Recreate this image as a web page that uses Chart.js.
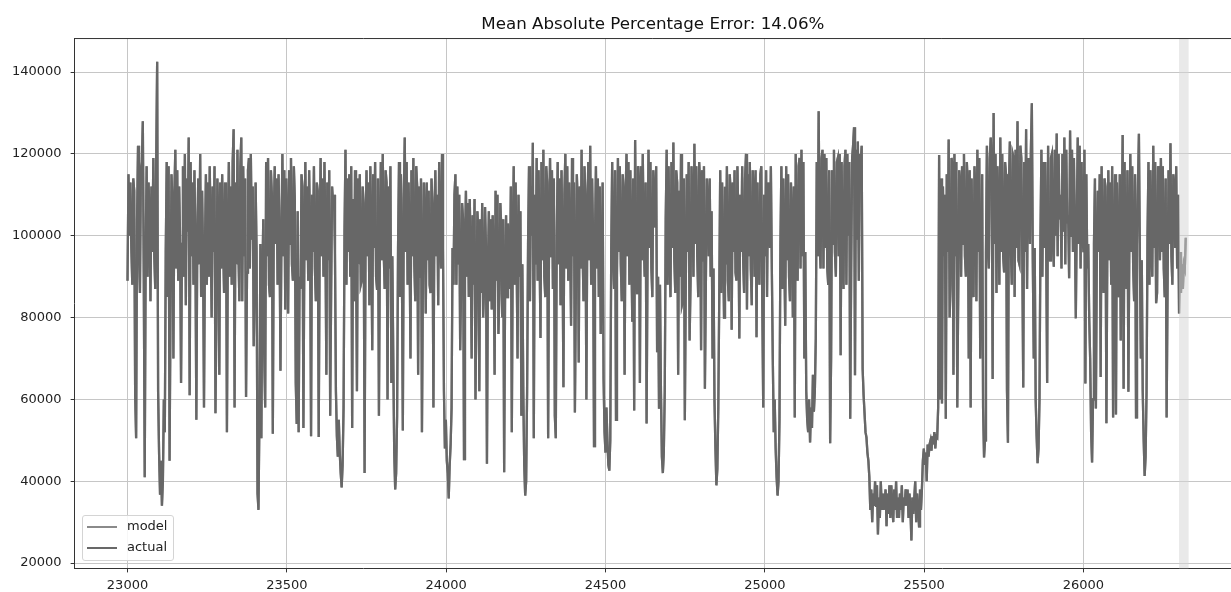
<!DOCTYPE html>
<html>
<head>
<meta charset="utf-8">
<script src="https://cdn.jsdelivr.net/npm/chart.js@4.4.0/dist/chart.umd.min.js"></script>
<style>
  html, body { margin: 0; padding: 0; background: #fff; overflow: hidden; }
  #wrap { position: relative; width: 1231px; height: 592px; }
  #legend {
    position: absolute; left: 82px; top: 515px; width: 92px; height: 46px;
    box-sizing: border-box; border: 1px solid #d4d4d4; border-radius: 3px;
    background: rgba(255,255,255,0.85);
    font: 13px "DejaVu Sans", sans-serif; color: #222;
  }
  #legend .sw { position: absolute; left: 4px; width: 30px; height: 2px; }
  #legend .lb { position: absolute; left: 44px; line-height: 16px; }
</style>
</head>
<body>
<div id="wrap">
  <canvas id="chart" width="1231" height="592"></canvas>
  <div id="legend">
    <span class="sw" style="top:10px;background:#8a8a8a"></span><span class="lb" style="top:2px">model</span>
    <span class="sw" style="top:31px;background:#686868"></span><span class="lb" style="top:23px">actual</span>
  </div>
</div>
<script>
// x axis: hour index, one reading every 3 hours
const startHour = 23000;
const stepHours = 3;

const xTicks = [23000, 23500, 24000, 24500, 25000, 25500, 26000];
const yTicks = [20000, 40000, 60000, 80000, 100000, 120000, 140000];

// highlighted forecast window
const spanStart = 26300;
const spanEnd = 26330;

// actual values in thousands, one row per day (8 readings)
const actualK = [
  89,115,100,113,97,88,114,111,  61,50.5,104,122,95,86,116,118,  128,90,41,96,117,90,113,105,  84,112,96,119,95,87,118,142.5,
  62,47,37,45,34,40,60,52,  96,118,85,117,45,84,115,108,  70,110,121,92,116,89,112,99,  64,98,117,90,120,83,114,101,
  124,61,118,95,113,88,116,98,  55,100,114,93,120,85,111,96,  58,97,115,88,113,90,117,100,  80,112,96,117,56.6,82,114,104,
  66,113,92,115,98,86,113,111,  52,99,118,90,112,88,118,126,  58,113,93,121,96,84,117,124,  84,117,95,114,60.6,91,116,119,
  92,120,99,112,73,86,113,96,  37,33,56,98,50.5,88,104,71,  58,118,95,119,88,85,116,110,  51.6,104,117,98,114,88,115,101,
  67,99,120,95,116,82,114,102,  81,116,98,119,93,89,117,109,  64,54,106,52,90,87,115,112,  53,97,118,94,112,89,116,99,
  51,110,96,117,92,84,113,111,  50.8,99,119,95,114,90,118,100,  66,113,94,116,56,86,112,108,  110,96,62,51,46,55,47,42,
  38.5,44,58,101,121,88,114,96,  115,90,117,53,109,84,116,98,  62,114,93,115,88,89,112,108,  42,99,116,95,113,83,117,100,
  72,115,97,118,90,87,114,56,  98,118,94,120,96,87,116,113,  60,112,92,117,64,95,70,47,  38,42,56,97,118,85,115,94,
  52.4,109,124,96,118,88,113,99,  70,116,95,119,93,84,117,112,  66,112,90,114,52,90,113,104,  81,113,94,111,88,86,114,107,
  58,104,116,95,110,83,118,99,  92,120,97,62,48,55,45,42,  35.8,44,49,58,97,88,110,115,  88,112,93,110,72,88,108,104,
  45.4,97,111,90,108,85,109,95,  70,105,88,109,60,84,106,101,  62,104,86,108,80,87,107,97,  44.3,92,106,84,104,82,105,95,
  66,111,89,110,76,86,108,102,  80,104,42.2,88,105,85,103,93,  87,112,52,98,117,88,113,95,  70,110,90,106,56,93,62,44,
  36.5,40,62,98,117,84,112,100,  122.7,50.5,110,93,119,89,116,97,  75,118,94,121,90,85,117,113,  50.5,103,119,95,116,87,114,56,
  50.5,100,118,93,114,83,116,97,  63,110,120,92,117,89,113,99,  78,119,95,113,56.8,86,115,108,  69,112,92,121,97,84,117,110,
  60,104,118,94,122,88,114,100,  48.6,99,117,92,114,85,112,76,  88,113,65,52,47,58,50,44,  42.6,50,96,118,94,87,116,55,
  90,119,96,117,93,84,115,111,  66,110,120,95,118,88,116,98,  79,114,57.3,123.4,96,86,117,112,  64,117,94,120,99,90,113,54.1,
  95,121,97,118,92,85,116,110,  102,117,71.5,90,58,88,62,46,  42,47,62,104,121,88,117,96,  85,118,97,122.8,94,86,116,113,
  66,111,90,120,83,84,114,54.9,  88,115,96,118,74.4,89,117,109,  90,122.5,98,117,95,85,118,113,  72,116,94,117,62.6,88,114,108,
  95,114,90,106,70,92,60,48,  39,43,58,85,116,86,113,98,  80,112,93,117,89,84,115,110,  77,113,96,116,91,89,117,104,
  74.9,110,96,117,94,86,114,120,  82,115,95,118,92,83,116,111,  90,116,75.2,113,96,88,115,117,  84,58,110,95,116,85,113,102,
  97,117,92,70,52,60,48,41,  36.5,40,55,98,117,87,114,96,  78,117,94,115,90,84,113,104,  80,112,55.6,120,95,89,117,119,
  92,121,95,118,70,96,62,55,  52,60,49.5,58,53,66,57,62,  75,118,95,130.4,98,92,119,121,  92,120,97,119,92,88,116,49.3,
  70,116,98,121,96,90,118,119,  95,120,70.8,118,98,87,117,121,  88,120,100,118,55.3,91,119,122,  126.5,65.9,121,99,123,89,120,118,
  122,67.5,61,56.6,52,50.7,47,45,  41,33,38,30,37,34,40,34,  39,27,36,31,40,33,37,33,  35,38,29,37,32,39,31,39,
  34,30,38,33,40,31,36,31,  37,33,39,30,36,34,38,34,  38,31,37,33,25.5,36,32,36,  40,30,37,34,29,38,33,38,
  45,48,44,47,40,49,46,49,  50,47.5,51,49,52,48,51,50.7,  58,119.7,60,114,59,112,95,110,  55.3,115,96,123.5,80,88,119,117,
  66,120,95,118,58,86,116,113,  90,117,98,120,95,90,118,112,  70,116,58,114,93,85,117,110,  84,121,96,119,70,88,115,58,
  45.8,50,96,122,97,92,119,124,  118,65,130,98,120,86,117,105,  88,124,96,120,95,91,118,115,  62,49.4,112,123,97,88,120,119,
  85,121,97,128,94,93,122,119,  95,62.9,118,96,126,87,119,108,  98,121,132.4,94,70,97,60,51,  44.4,48,60,99,121,90,118,97,
  118,97,64,122,96,94,119,120,  99,92.4,121,100,125,95,120,104,  110,92,120,101,124,93,121,103,  105,89.6,125.7,100,121,96,119,102,
  79.8,104,124,98,122,92,118,100,  96,121,63.9,115,92,98,80,70,  52,44.6,60,98,114,57.8,96,111,  96,115,65.5,117,94,86,114,112,
  54.2,99,116,94,113,88,117,55.6,  97,115,56.3,113,96,85,115,74.4,  100,124.6,62.6,118,95,87,116,61.9,  99,120,96,117,92,84,115,55.6,
  98,112,124.9,95,70,94,62,50,  41.3,46,62,100,118,88,116,96,  90,122,97,118,83.5,86,117,113,  94,119,96,117,92,85,114,55.6,
  88,116,98,122.6,95,88,115,112,  97,117,92,110,81,96,86,93,  87,93,92,99.5
];

// model line sits under the actual one and is not distinguishable in the picture
const modelK = actualK;

function toPoints(arr) {
  return arr.map((v, i) => ({ x: startHour + i * stepHours, y: v * 1000 }));
}

const FONT = "DejaVu Sans";

// light grey band over the forecast window
const spanPlugin = {
  id: "span",
  afterDatasetsDraw(chart) {
    const { ctx, chartArea, scales } = chart;
    const x0 = scales.x.getPixelForValue(spanStart);
    const x1 = scales.x.getPixelForValue(spanEnd);
    ctx.save();
    ctx.fillStyle = "rgba(211,211,211,0.5)";
    ctx.fillRect(x0, chartArea.top, x1 - x0, chartArea.bottom - chartArea.top);
    ctx.restore();
  }
};

// top spine (left and bottom come from the axis borders)
const framePlugin = {
  id: "frame",
  afterDraw(chart) {
    const { ctx, chartArea } = chart;
    ctx.save();
    ctx.strokeStyle = "#333";
    ctx.lineWidth = 1;
    ctx.beginPath();
    ctx.moveTo(chartArea.left, chartArea.top + 0.5);
    ctx.lineTo(chartArea.right, chartArea.top + 0.5);
    ctx.stroke();
    ctx.restore();
  }
};

new Chart(document.getElementById("chart").getContext("2d"), {
  type: "line",
  data: {
    datasets: [
      {
        label: "model",
        data: toPoints(modelK),
        borderColor: "#8a8a8a",
        borderWidth: 2.3,
        pointRadius: 0,
        tension: 0,
        order: 2
      },
      {
        label: "actual",
        data: toPoints(actualK),
        borderColor: "#676767",
        borderWidth: 2.3,
        pointRadius: 0,
        tension: 0,
        order: 1
      }
    ]
  },
  options: {
    responsive: false,
    animation: false,
    parsing: false,
    normalized: true,
    layout: { padding: { left: 3, right: 0, top: 0, bottom: -6 } },
    scales: {
      x: {
        type: "linear",
        min: 22834,
        max: 26463,
        afterBuildTicks: (axis) => { axis.ticks = xTicks.map(v => ({ value: v })); },
        ticks: {
          font: { family: FONT, size: 13 },
          color: "#222",
          padding: 5,
          maxRotation: 0,
          autoSkip: false,
          callback: (v) => String(v)
        },
        grid: { color: "#c6c6c6", lineWidth: 1, tickLength: 4, tickColor: "#333" },
        border: { display: true, color: "#333", width: 1 }
      },
      y: {
        min: 18700,
        max: 148313,
        afterBuildTicks: (axis) => { axis.ticks = yTicks.map(v => ({ value: v })); },
        ticks: {
          font: { family: FONT, size: 13 },
          color: "#222",
          padding: 9,
          callback: (v) => String(v)
        },
        grid: { color: "#c6c6c6", lineWidth: 1, tickLength: 4, tickColor: "#333" },
        border: { display: true, color: "#333", width: 1 }
      }
    },
    plugins: {
      legend: { display: false },
      tooltip: { enabled: false },
      title: {
        display: true,
        text: "Mean Absolute Percentage Error: 14.06%",
        fullSize: false,
        color: "#111",
        font: { family: FONT, size: 16.7, weight: "normal" },
        padding: { top: 15, bottom: 3 }
      }
    }
  },
  plugins: [spanPlugin, framePlugin]
});
</script>
</body>
</html>
